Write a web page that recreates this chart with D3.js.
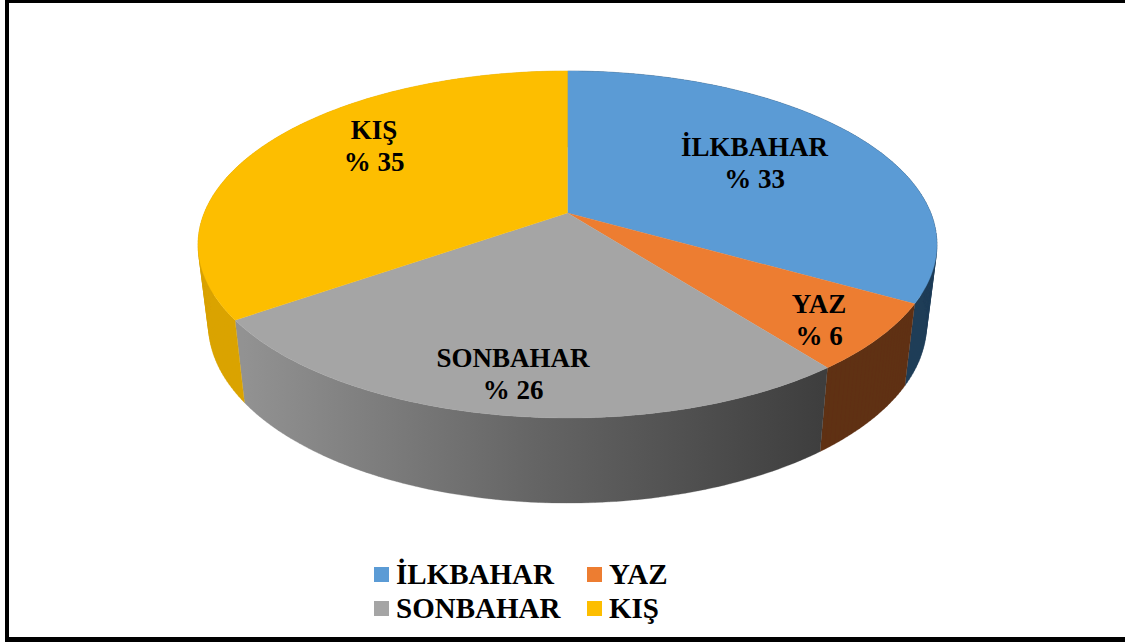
<!DOCTYPE html>
<html>
<head>
<meta charset="utf-8">
<script src="https://cdn.jsdelivr.net/npm/d3@7"></script>
<style>
html, body { margin: 0; padding: 0; background: #fff; overflow: hidden; }
svg { display: block; }
text { font-family: "Liberation Serif", serif; font-weight: bold; fill: #000; }
</style>
</head>
<body>
<script>
var categories = ["İLKBAHAR", "YAZ", "SONBAHAR", "KIŞ"];
// the labels only show whole percents, decimals
var values = [33.2, 6.3, 25.8, 34.7];
var topColors = ["#5b9bd5", "#ed7d31", "#a5a5a5", "#fdbe00"];
var sideColors = ["#203d57", "#5f3113", "url(#greySide)", "#daa300"];

var width = 1125, height = 643;

var svg = d3.select("body").append("svg")
    .attr("width", width)
    .attr("height", height);

// grey wall gets darker to the right
var grad = svg.append("defs").append("linearGradient")
    .attr("id", "greySide")
    .attr("gradientUnits", "userSpaceOnUse")
    .attr("x1", 243).attr("x2", 822)
    .attr("y1", 0).attr("y2", 0);
grad.append("stop").attr("offset", "0%").attr("stop-color", "#929292");
grad.append("stop").attr("offset", "50%").attr("stop-color", "#656565");
grad.append("stop").attr("offset", "100%").attr("stop-color", "#3e3e3e");

// frame
svg.append("rect").attr("x", 5).attr("y", 0).attr("width", 1125).attr("height", 3).attr("fill", "#000");
svg.append("rect").attr("x", 5).attr("y", 0).attr("width", 4).attr("height", 642).attr("fill", "#000");
svg.append("rect").attr("x", 5).attr("y", 637).attr("width", 1125).attr("height", 5).attr("fill", "#000");

var pie = d3.pie().sort(null)(values);

// the disc is tilted: rim points go through a perspective map, k is the foreshortening
var k = -0.1816;
function plane(y0, a, b) {
  return function(angle, r) {
    var u = Math.sin(angle) * r, v = -Math.cos(angle) * r;
    var w = 1 + k * v;
    return [567.5 + b * u / w, (y0 + a * v) / w];
  };
}
var topFace = plane(213, 129.1, 363.3);
var bottomFace = plane(292.7, 119, 353);

var line = d3.line();

function rimAngles(d) {
  var n = Math.ceil((d.endAngle - d.startAngle) * 60);
  return d3.range(n + 1).map(function(i) {
    return d.startAngle + (d.endAngle - d.startAngle) * i / n;
  });
}

// wall = strips in one path, all wound the same way so the fold at the sides stays filled
function wallPath(d) {
  return d3.pairs(rimAngles(d)).map(function(p) {
    var quad = [topFace(p[0], 1), topFace(p[1], 1), bottomFace(p[1], 1), bottomFace(p[0], 1)];
    if (d3.polygonArea(quad) < 0) quad.reverse();
    return line(quad) + "Z";
  }).join("");
}

svg.selectAll(".side")
    .data(pie)
  .enter().append("path")
    .attr("class", "side")
    .attr("d", wallPath)
    .attr("fill", function(d, i) { return sideColors[i]; })
    .attr("stroke", function(d, i) { return sideColors[i]; })
    .attr("stroke-width", 0.3);

svg.selectAll(".slice")
    .data(pie)
  .enter().append("path")
    .attr("class", "slice")
    .attr("d", function(d) {
      var rim = rimAngles(d).map(function(a) { return topFace(a, 1); });
      return line([topFace(0, 0)].concat(rim)) + "Z";
    })
    .attr("fill", function(d, i) { return topColors[i]; })
    .attr("stroke", function(d, i) { return topColors[i]; })
    .attr("stroke-width", 0.3);

// data labels
var labelPos = [[754.5, 156], [819, 313], [513, 367], [374, 139]];
var labels = svg.selectAll(".label")
    .data(pie)
  .enter().append("text")
    .attr("class", "label")
    .attr("text-anchor", "middle")
    .attr("font-size", "27px");
labels.append("tspan")
    .attr("x", function(d, i) { return labelPos[i][0]; })
    .attr("y", function(d, i) { return labelPos[i][1]; })
    .text(function(d, i) { return categories[i]; });
labels.append("tspan")
    .attr("x", function(d, i) { return labelPos[i][0]; })
    .attr("y", function(d, i) { return labelPos[i][1] + 32; })
    .text(function(d) { return "% " + d3.format(".0f")(d.value); });

// legend, two rows of two
var legendX = d3.scalePoint().domain([0, 1]).range([374, 587]);
var legendY = d3.scalePoint().domain([0, 1]).range([567, 601]);

var legend = svg.selectAll(".legend")
    .data(categories)
  .enter().append("g")
    .attr("class", "legend")
    .attr("transform", function(d, i) {
      return "translate(" + legendX(i % 2) + "," + legendY(Math.floor(i / 2)) + ")";
    });
legend.append("rect")
    .attr("width", 15)
    .attr("height", 15)
    .attr("fill", function(d, i) { return topColors[i]; });
legend.append("text")
    .attr("x", 22)
    .attr("y", 17)
    .attr("font-size", "29px")
    .text(function(d) { return d; });
</script>
</body>
</html>
